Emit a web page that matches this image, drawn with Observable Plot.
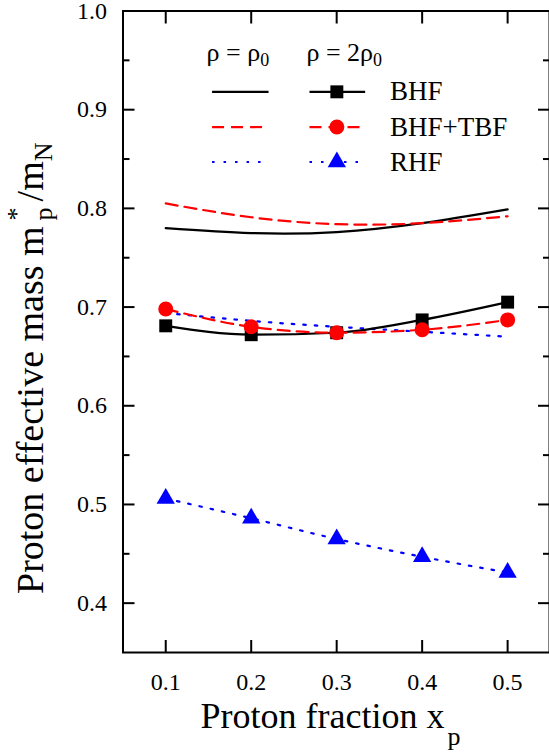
<!DOCTYPE html>
<html><head><meta charset="utf-8">
<script src="https://cdn.jsdelivr.net/npm/d3@7"></script>
<script src="https://cdn.jsdelivr.net/npm/@observablehq/plot@0.6"></script>
<style>body{margin:0;background:#fff} svg{display:block}</style>
</head><body><div id="chart"></div>
<script>
// ---- data ----
const xp = [0.1, 0.2, 0.3, 0.4, 0.5];
// rho = rho0 (lines only)
const bhf_r0 = [0.780, 0.775, 0.776, 0.785, 0.799];
const tbf_r0 = [0.805, 0.791, 0.784, 0.785, 0.792];
const rhf_r0 = [0.694, 0.686, 0.680, 0.675, 0.670];
// rho = 2 rho0 (lines + markers)
const bhf_2r0 = [0.681, 0.672, 0.674, 0.687, 0.705];
const tbf_2r0 = [0.698, 0.680, 0.674, 0.677, 0.687];
const rhf_2r0 = [0.506, 0.486, 0.465, 0.447, 0.431];

const seriesNames = ["BHF", "BHF+TBF", "RHF"];
const xTicks = [0.1, 0.2, 0.3, 0.4, 0.5];
const yTicks = [0.4, 0.5, 0.6, 0.7, 0.8, 0.9, 1.0];
const yMinor = [0.45, 0.55, 0.65, 0.75, 0.85, 0.95];

// ---- styles ----
const styles = [
  {stroke: "#000000", dash: null, symbol: "square", r: 7.3},
  {stroke: "#ff0000", dash: "12,7", symbol: "circle", r: 7.5},
  {stroke: "#0000ff", dash: "2.5,9", symbol: "triangle", r: 6.8}
];
// legend layout (in data units)
const legendPos = {r0: [0.1542, 0.2203], r2: [0.2682, 0.3333], marker: 0.3002, label: 0.3625,
  rows: [0.9181, 0.8824, 0.8470], headX: [0.1484, 0.2652], headY: 0.949};

const rows = ys => xp.map((x, i) => ({x, y: ys[i]}));
const r0Sets = [bhf_r0, tbf_r0, rhf_r0];
const r2Sets = [bhf_2r0, tbf_2r0, rhf_2r0];

const FONT = "'Liberation Serif', 'Times New Roman', Times, 'DejaVu Serif', serif";
const marks = [];
r0Sets.forEach((s, k) => {
  marks.push(Plot.line(rows(s), {x: "x", y: "y", stroke: styles[k].stroke, strokeWidth: 2.2,
    strokeDasharray: styles[k].dash, curve: "natural"}));
});
r2Sets.forEach((s, k) => {
  marks.push(Plot.line(rows(s), {x: "x", y: "y", stroke: styles[k].stroke, strokeWidth: 2.2,
    strokeDasharray: styles[k].dash, curve: "monotone-x"}));
  marks.push(Plot.dot(rows(s), {x: "x", y: "y", fill: styles[k].stroke, stroke: "none",
    symbol: styles[k].symbol, r: styles[k].r}));
});
// legend
const legendRows = seriesNames.map((name, k) => ({name, k, y: legendPos.rows[k]}));
legendRows.forEach(d => {
  const st = styles[d.k];
  marks.push(Plot.link([d], {x1: () => legendPos.r0[0], x2: () => legendPos.r0[1], y1: "y", y2: "y",
    stroke: st.stroke, strokeWidth: 2.2, strokeDasharray: st.dash}));
  marks.push(Plot.link([d], {x1: () => legendPos.r2[0], x2: () => legendPos.r2[1], y1: "y", y2: "y",
    stroke: st.stroke, strokeWidth: 2.2, strokeDasharray: st.dash}));
  marks.push(Plot.dot([d], {x: () => legendPos.marker, y: "y", fill: st.stroke, stroke: "none",
    symbol: st.symbol, r: st.r}));
  marks.push(Plot.text([d], {x: () => legendPos.label, y: "y", text: "name", textAnchor: "start",
    fontSize: 27, fill: "black", lineAnchor: "middle"}));
});

const fmt = d => d.toFixed(1);
marks.push(
  Plot.frame({stroke: "black", strokeWidth: 2}),
  Plot.axisX(xTicks, {anchor: "bottom", tickSize: -12, strokeWidth: 2, fill: "none", label: null}),
  Plot.axisX(xTicks, {anchor: "top", tickSize: -12, strokeWidth: 2, fill: "none", label: null}),
  Plot.axisX(xTicks, {anchor: "bottom", tickSize: 0, tickPadding: 20, fontSize: 24, label: null, tickFormat: fmt}),
  Plot.axisY(yTicks, {anchor: "left", tickSize: -12, strokeWidth: 2, fill: "none", label: null}),
  Plot.axisY(yTicks, {anchor: "right", tickSize: -12, strokeWidth: 2, fill: "none", label: null}),
  Plot.axisY(yMinor, {anchor: "left", tickSize: -7, strokeWidth: 2, fill: "none", label: null}),
  Plot.axisY(yMinor, {anchor: "right", tickSize: -7, strokeWidth: 2, fill: "none", label: null}),
  Plot.axisY(yTicks, {anchor: "left", tickSize: 0, tickPadding: 16, fontSize: 24, label: null, tickFormat: fmt})
);

const plot = Plot.plot({
  width: 549, height: 753,
  marginTop: 10.5, marginBottom: 101, marginLeft: 122.5, marginRight: 0,
  x: {domain: [0.05, 0.549]},
  y: {domain: [0.35, 1.0]},
  style: {background: "white", color: "black"},
  marks
});
document.getElementById("chart").appendChild(plot);

// ---- titles and legend headers (rich text) ----
const svg = d3.select(plot);
const sx = plot.scale("x"), sy = plot.scale("y");
const heads = [["ρ = ρ", "0"], ["ρ = 2ρ", "0"]];
heads.forEach((h, i) => {
  const t = svg.append("text").attr("x", sx.apply(legendPos.headX[i])).attr("y", sy.apply(legendPos.headY))
    .attr("text-anchor", "start").attr("font-size", 26).attr("fill", "black");
  t.append("tspan").text(h[0]);
  t.append("tspan").attr("font-size", 18).attr("dy", 5).text(h[1]);
});

const xt = svg.append("text").attr("x", 200.5).attr("y", 728).attr("text-anchor", "start")
  .attr("font-size", 36).attr("fill", "black");
xt.append("tspan").text("Proton fraction x");
xt.append("tspan").attr("font-size", 26).attr("dx", 3).attr("dy", 17).text("p");

const yt = svg.append("text").attr("transform", "translate(43,594) rotate(-90)").attr("text-anchor", "start")
  .attr("font-size", 38).attr("fill", "black");
yt.append("tspan").text("Proton effective mass m");
yt.append("tspan").attr("font-size", 26).attr("dx", 6).attr("dy", -18).text("*");
yt.append("tspan").attr("font-size", 26).attr("dx", -13).attr("dy", 27).text("p");
yt.append("tspan").attr("dx", 6).attr("dy", -9).text("/m");
yt.append("tspan").attr("font-size", 26).attr("dy", 9).text("N");

// force the serif face on every text (inline style wins over Plot defaults)
svg.selectAll("text, tspan").style("font-family", FONT);
</script>
</body></html>
